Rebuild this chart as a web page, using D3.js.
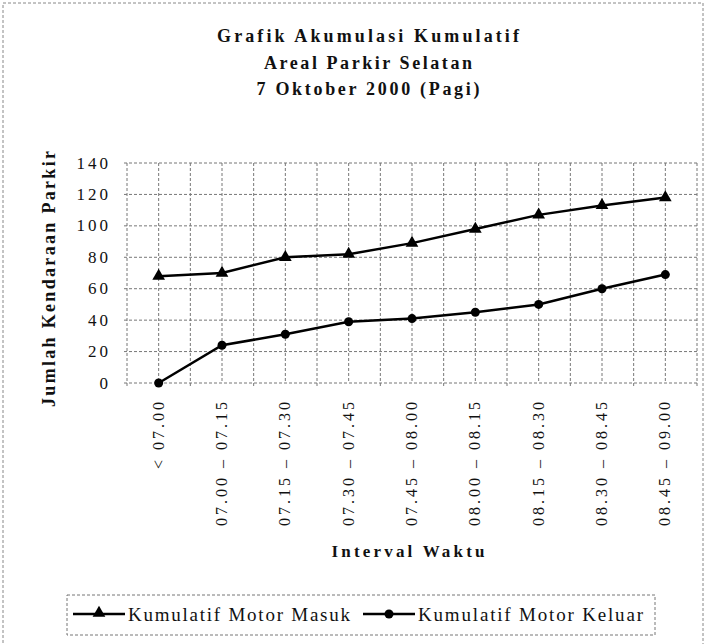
<!DOCTYPE html>
<html>
<head>
<meta charset="utf-8">
<script src="https://cdn.jsdelivr.net/npm/d3@7"></script>
<style>
  html, body { margin: 0; padding: 0; background: #fff; }
  svg { display: block; }
  svg text { font-family: 'Liberation Serif', 'Times New Roman', 'DejaVu Serif', serif; fill: #111; }
</style>
</head>
<body>
<svg id="chart" width="706" height="644"></svg>
<script>
// ---- data ----
const categories = ["< 07.00", "07.00 – 07.15", "07.15 – 07.30", "07.30 – 07.45", "07.45 – 08.00",
                    "08.00 – 08.15", "08.15 – 08.30", "08.30 – 08.45", "08.45 – 09.00"];
const masuk  = [68, 70, 80, 82, 89, 98, 107, 113, 118];
const keluar = [0, 24, 31, 39, 41, 45, 50, 60, 69];
const yTicks = [0, 20, 40, 60, 80, 100, 120, 140];
const titleLines = ["Grafik Akumulasi Kumulatif", "Areal Parkir Selatan", "7 Oktober 2000 (Pagi)"];
const seriesNames = ["Kumulatif Motor Masuk", "Kumulatif Motor Keluar"];
const yTitle = "Jumlah Kendaraan Parkir";
const xTitle = "Interval Waktu";

// ---- layout ----
const FONT = "'Liberation Serif', 'Times New Roman', 'DejaVu Serif', serif";
const svg = d3.select("#chart");
const pLeft = 127, pRight = 697, pTop = 163, pBottom = 383;

const x = d3.scaleBand().domain(categories).range([pLeft, pRight]).padding(0);
const y = d3.scaleLinear().domain([0, 140]).range([pBottom, pTop]);
const cx = d => x(d) + x.bandwidth() / 2;

// outer frame
svg.append("rect").attr("x", 3).attr("y", 3).attr("width", 700).attr("height", 660)
  .attr("fill", "none").attr("stroke", "#888").attr("stroke-width", 1).attr("stroke-dasharray", "3,2");

// title
const titleY = [42, 68.5, 95];
const titleLen = [302, 208, 223];
svg.append("g").selectAll("text").data(titleLines).join("text")
  .attr("x", 368).attr("y", (d, i) => titleY[i]).attr("font-family", FONT)
  .attr("text-anchor", "middle").attr("font-weight", "bold").attr("font-size", 18)
  .attr("textLength", (d, i) => titleLen[i]).attr("lengthAdjust", "spacing")
  .text(d => d);

// gridlines
const grid = svg.append("g").attr("stroke", "#777").attr("stroke-width", 1)
  .attr("stroke-dasharray", "3,2").attr("fill", "none");
grid.selectAll("line.h").data(yTicks).join("line").attr("class", "h")
  .attr("x1", pLeft - 3).attr("x2", pRight).attr("y1", d => y(d)).attr("y2", d => y(d));
const bounds = categories.map(c => x(c)).concat([pRight]);
grid.selectAll("line.vb").data(bounds).join("line").attr("class", "vb")
  .attr("x1", d => d).attr("x2", d => d).attr("y1", pTop).attr("y2", pBottom + 5);
grid.selectAll("line.vc").data(categories).join("line").attr("class", "vc")
  .attr("x1", d => cx(d)).attr("x2", d => cx(d)).attr("y1", pTop).attr("y2", pBottom);

// y axis tick labels
svg.append("g").selectAll("text").data(yTicks).join("text")
  .attr("x", 111).attr("y", d => y(d) + 5.5).attr("font-family", FONT)
  .attr("text-anchor", "end").attr("font-size", 17).attr("letter-spacing", "3px")
  .text(d => d);

// x axis tick labels (rotated)
svg.append("g").selectAll("text").data(categories).join("text")
  .attr("transform", d => `translate(${cx(d) + 5},399) rotate(-90)`).attr("font-family", FONT)
  .attr("text-anchor", "end").attr("font-size", 16).attr("letter-spacing", "3px")
  .text(d => d);

// axis titles
svg.append("text").attr("transform", "translate(55,279) rotate(-90)").attr("font-family", FONT)
  .attr("text-anchor", "middle").attr("font-weight", "bold").attr("font-size", 18)
  .attr("textLength", 256).attr("lengthAdjust", "spacing").text(yTitle);
svg.append("text").attr("x", 408).attr("y", 557).attr("font-family", FONT)
  .attr("text-anchor", "middle").attr("font-weight", "bold").attr("font-size", 17)
  .attr("textLength", 153).attr("lengthAdjust", "spacing").text(xTitle);

// lines
const line = d3.line().x((d, i) => cx(categories[i])).y(d => y(d));
const tri = d3.symbol().type(d3.symbolTriangle).size(70);
[masuk, keluar].forEach((vals, si) => {
  svg.append("path").datum(vals).attr("d", line)
    .attr("fill", "none").attr("stroke", "#000").attr("stroke-width", 2.5);
  const g = svg.append("g");
  if (si === 0) {
    g.selectAll("path").data(vals).join("path")
      .attr("transform", (d, i) => `translate(${cx(categories[i])},${y(d)})`)
      .attr("d", tri).attr("fill", "#000");
  } else {
    g.selectAll("circle").data(vals).join("circle")
      .attr("cx", (d, i) => cx(categories[i])).attr("cy", d => y(d))
      .attr("r", 4.5).attr("fill", "#000");
  }
});

// legend
svg.append("rect").attr("x", 67).attr("y", 595).attr("width", 588).attr("height", 40)
  .attr("fill", "none").attr("stroke", "#777").attr("stroke-width", 1).attr("stroke-dasharray", "3,2");
const legX = [73, 363];
const legLen = [222, 225];
seriesNames.forEach((name, i) => {
  const g = svg.append("g");
  g.append("line").attr("x1", legX[i]).attr("x2", legX[i] + 52).attr("y1", 614).attr("y2", 614)
    .attr("stroke", "#000").attr("stroke-width", 2.5);
  if (i === 0) {
    g.append("path").attr("transform", `translate(${legX[i] + 26},613)`).attr("d", tri).attr("fill", "#000");
  } else {
    g.append("circle").attr("cx", legX[i] + 26).attr("cy", 614).attr("r", 4.5).attr("fill", "#000");
  }
  g.append("text").attr("x", legX[i] + 55).attr("y", 621).attr("font-size", 19).attr("font-family", FONT)
    .attr("textLength", legLen[i]).attr("lengthAdjust", "spacing").text(name);
});
</script>
</body>
</html>
